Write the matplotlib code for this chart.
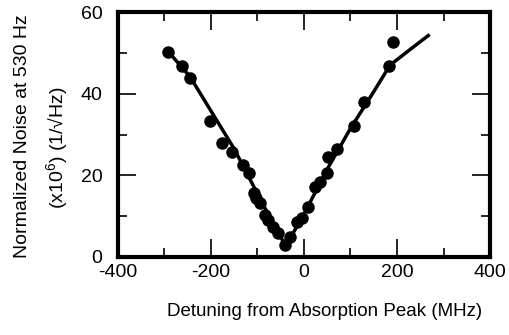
import numpy as np
import matplotlib
matplotlib.use("Agg")
import matplotlib.pyplot as plt

plt.rcParams['font.family'] = ['Liberation Sans', 'DejaVu Sans']
plt.rcParams['mathtext.fontset'] = 'custom'
plt.rcParams['mathtext.rm'] = 'Liberation Sans'
plt.rcParams['mathtext.it'] = 'Liberation Sans'
plt.rcParams['axes.unicode_minus'] = False

# measured points: detuning (MHz) vs normalized noise (x1e6)
detuning = [-293, -263, -245, -202, -177, -155, -130, -118, -107, -102, -95,
            -84, -77, -66, -55, -41, -30, -16, -5, 9, 24, 34, 49, 51, 72,
            107, 130, 183, 192]
noise = [50.3, 46.9, 43.9, 33.4, 27.8, 25.8, 22.5, 20.5, 15.6, 14.4, 13.2,
         10.3, 9.1, 7.4, 5.8, 2.9, 5.0, 8.6, 9.5, 12.3, 17.2, 18.4, 20.5,
         24.6, 26.5, 32.1, 38.0, 46.8, 52.6]

# fit curve
fit_x = [-293, -245, -200, -150, -100, -70, -50, -40, -30, 0, 50, 100, 150, 185, 230, 270]
fit_y = [50.5, 44.2, 35.8, 26.5, 15.5, 9.0, 5.0, 2.5, 4.5, 10.5, 21.5, 31.5, 40.5, 47.0, 51.0, 54.5]

fig = plt.figure(figsize=(5.1, 3.35), dpi=100)
ax = fig.add_axes([0.231, 0.233, 0.730, 0.731])

ax.plot(fit_x, fit_y, color='black', lw=2.5, solid_capstyle='butt')
ax.plot(detuning, noise, 'o', color='black', ms=8)

ax.set_xlim(-400, 400)
ax.set_ylim(0, 60)
ax.set_xticks([-400, -200, 0, 200, 400])
ax.set_xticks([-300, -100, 100, 300], minor=True)
ax.set_yticks([0, 20, 40, 60])
ax.set_yticks([10, 30, 50], minor=True)

for s in ax.spines.values():
    s.set_linewidth(3)
ax.tick_params(which='both', direction='in', top=True, right=True, width=1.2, labelsize=14)
ax.tick_params(which='major', length=13)
ax.tick_params(which='minor', length=6.5)
ax.tick_params(axis='y', pad=11)
ax.tick_params(axis='x', pad=5)

ax.set_xlabel('Detuning from Absorption Peak (MHz)', fontsize=13.5, va='top')
ax.xaxis.set_label_coords(0.556, -0.19)

fig.text(0.045, 0.594, 'Normalized Noise at 530 Hz', rotation=90,
         ha='center', va='center', fontsize=14)
fig.text(0.112, 0.558, '(x10$^6$) (1/√Hz)', rotation=90,
         ha='center', va='center', fontsize=14)

fig.savefig('out.png', dpi=100)
